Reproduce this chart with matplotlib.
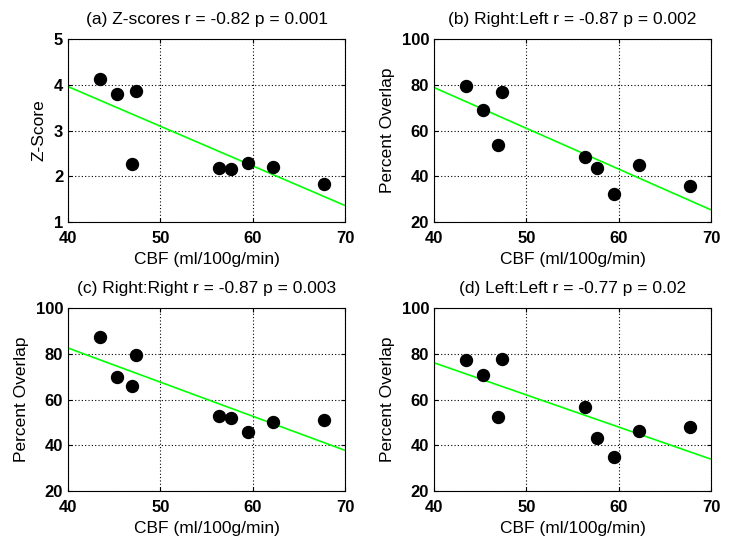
import numpy as np
import matplotlib
matplotlib.use("Agg")
import matplotlib.pyplot as plt

plt.rcParams['font.family'] = ['Liberation Sans', 'DejaVu Sans']

# CBF values (x) shared by all panels
cbf = [43.5, 45.3, 47.4, 46.9, 56.3, 57.7, 59.5, 62.2, 67.7]

# Panel values
z_scores = [4.13, 3.79, 3.86, 2.27, 2.17, 2.15, 2.28, 2.21, 1.83]
right_left = [79.6, 68.8, 77.0, 53.5, 48.3, 43.6, 32.4, 44.9, 35.7]
right_right = [87.3, 69.8, 79.5, 65.8, 52.8, 51.9, 45.8, 50.2, 51.0]
left_left = [77.3, 70.6, 77.7, 52.4, 56.9, 43.2, 34.7, 46.1, 48.1]

titles = ["(a) Z-scores r = -0.82 p = 0.001",
          "(b) Right:Left r = -0.87 p = 0.002",
          "(c) Right:Right r = -0.87 p = 0.003",
          "(d) Left:Left r = -0.77 p = 0.02"]
ylabels = ["Z-Score", "Percent Overlap", "Percent Overlap", "Percent Overlap"]
xlabel = "CBF (ml/100g/min)"
xticks = [40, 50, 60, 70]
yticks_z = [1, 2, 3, 4, 5]
yticks_p = [20, 40, 60, 80, 100]

W, H = 732, 538
fig = plt.figure(figsize=(W / 100, H / 100), dpi=100)

positions = [(68, 39), (434, 39), (68, 308), (434, 308)]
aw, ah = 277, 183

datasets = [z_scores, right_left, right_right, left_left]
yticksets = [yticks_z, yticks_p, yticks_p, yticks_p]

for i in range(4):
    x0, y0 = positions[i]
    ax = fig.add_axes([x0 / W, 1 - (y0 + ah) / H, aw / W, ah / H])
    ys = datasets[i]
    yt = yticksets[i]
    # least-squares fit line
    k, b = np.polyfit(cbf, ys, 1)
    xl = np.array([xticks[0], xticks[-1]])
    ax.plot(xl, k * xl + b, color=(0, 1, 0), lw=1.2, zorder=2)
    ax.plot(cbf, ys, 'o', color='black', markersize=8.6, zorder=3)
    ax.set_xlim(xticks[0], xticks[-1])
    ax.set_ylim(yt[0], yt[-1])
    ax.set_xticks(xticks)
    ax.set_yticks(yt)
    ax.grid(True, color='black', linestyle=(0, (1, 2)), linewidth=0.8)
    ax.tick_params(direction='in', length=3, top=True, right=True,
                   labelsize=12)
    ax.tick_params(axis='x', pad=6.5)
    ax.tick_params(axis='y', pad=3.5)
    for lab in ax.get_xticklabels() + ax.get_yticklabels():
        lab.set_fontweight('bold')
    ax.set_title(titles[i], fontsize=12.5, pad=10.5)
    ax.set_xlabel(xlabel, fontsize=12.5, labelpad=4.5)
    ax.set_ylabel(ylabels[i], fontsize=12.5, labelpad=5)
    for s in ax.spines.values():
        s.set_linewidth(0.8)

fig.savefig("out.png", dpi=100)
